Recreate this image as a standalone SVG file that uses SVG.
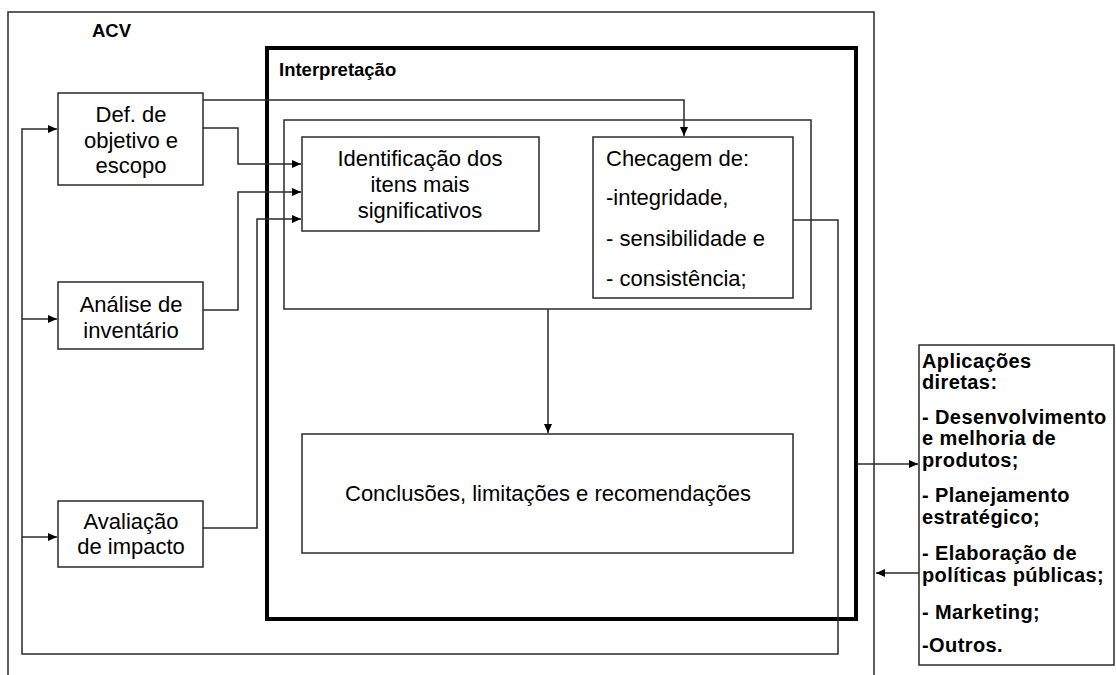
<svg xmlns="http://www.w3.org/2000/svg" width="1116" height="675" viewBox="0 0 1116 675">
<style>
.box{fill:#fff;stroke:#2a2a2a;stroke-width:1.5}
.frame{fill:none;stroke:#2a2a2a;stroke-width:1.5}
.thick{fill:none;stroke:#000;stroke-width:4}
.t{font-family:"Liberation Sans",Arial,sans-serif;font-size:22px;fill:#000}
.c{text-anchor:middle}
.h{font-family:"Liberation Sans",Arial,sans-serif;font-weight:bold;font-size:18.5px;fill:#000}
.r{font-family:"Liberation Sans",Arial,sans-serif;font-weight:bold;font-size:20px;letter-spacing:0.4px;fill:#000}
.ln{fill:none;stroke:#2a2a2a;stroke-width:1.5}
</style>
<defs>
<marker id="ah" markerUnits="userSpaceOnUse" markerWidth="10" markerHeight="8" refX="9" refY="4" orient="auto">
<path d="M0,0 L9,4 L0,8 z" fill="#000"/>
</marker>
</defs>
<rect width="1116" height="675" fill="#fff"/>
<g id="acv">
<path class="frame" d="M8,676 V12 H874 V676"/>
<text class="h" x="92" y="37">ACV</text>
</g>
<g id="interpretacao">
<rect class="thick" x="267" y="48" width="589" height="571"/>
<text class="h" x="279" y="76">Interpretação</text>
<rect class="frame" x="284" y="120" width="527" height="189"/>
</g>
<g id="connectors">
<path class="ln" d="M203,100 H684 V136" marker-end="url(#ah)"/>
<path class="ln" d="M203,128 H238 V164 H301" marker-end="url(#ah)"/>
<path class="ln" d="M203,310 H238 V192 H301" marker-end="url(#ah)"/>
<path class="ln" d="M203,528 H257 V219 H301" marker-end="url(#ah)"/>
<path class="ln" d="M793,220 H838 V654 H22 V129 H57" marker-end="url(#ah)"/>
<path class="ln" d="M22,319 H57" marker-end="url(#ah)"/>
<path class="ln" d="M22,537 H57" marker-end="url(#ah)"/>
<path class="ln" d="M548,309 V433" marker-end="url(#ah)"/>
<path class="ln" d="M857,464 H918" marker-end="url(#ah)"/>
<path class="ln" d="M919,573 H876" marker-end="url(#ah)"/>
</g>
<g id="def">
<rect class="box" x="58" y="93" width="145" height="92"/>
<text class="t c" x="131" y="122">Def. de</text>
<text class="t c" x="131" y="148">objetivo e</text>
<text class="t c" x="131" y="173">escopo</text>
</g>
<g id="analise">
<rect class="box" x="58" y="282" width="145" height="67"/>
<text class="t c" x="131" y="312">Análise de</text>
<text class="t c" x="131" y="338">inventário</text>
</g>
<g id="avaliacao">
<rect class="box" x="58" y="501" width="145" height="66"/>
<text class="t c" x="131" y="529">Avaliação</text>
<text class="t c" x="131" y="554">de impacto</text>
</g>
<g id="identificacao">
<rect class="box" x="302" y="137" width="237" height="94"/>
<text class="t c" x="420" y="166">Identificação dos</text>
<text class="t c" x="420" y="192">itens mais</text>
<text class="t c" x="420" y="218">significativos</text>
</g>
<g id="checagem">
<rect class="box" x="593" y="137" width="200" height="161"/>
<text class="t" x="606" y="166">Checagem de:</text>
<text class="t" x="606" y="205">-integridade,</text>
<text class="t" x="606" y="246">- sensibilidade e</text>
<text class="t" x="606" y="286">- consistência;</text>
</g>
<g id="conclusoes">
<rect class="box" x="302" y="434" width="491" height="119"/>
<text class="t c" x="548" y="501">Conclusões, limitações e recomendações</text>
</g>
<g id="aplicacoes">
<rect class="box" x="919" y="345" width="195" height="320"/>
<text class="r" x="922" y="368">Aplicações</text>
<text class="r" x="922" y="389">diretas:</text>
<text class="r" x="922" y="424">- Desenvolvimento</text>
<text class="r" x="922" y="445">e melhoria de</text>
<text class="r" x="922" y="467">produtos;</text>
<text class="r" x="922" y="502">- Planejamento</text>
<text class="r" x="922" y="524">estratégico;</text>
<text class="r" x="922" y="560">- Elaboração de</text>
<text class="r" x="922" y="582">políticas públicas;</text>
<text class="r" x="922" y="619">- Marketing;</text>
<text class="r" x="922" y="652">-Outros.</text>
</g>
</svg>
